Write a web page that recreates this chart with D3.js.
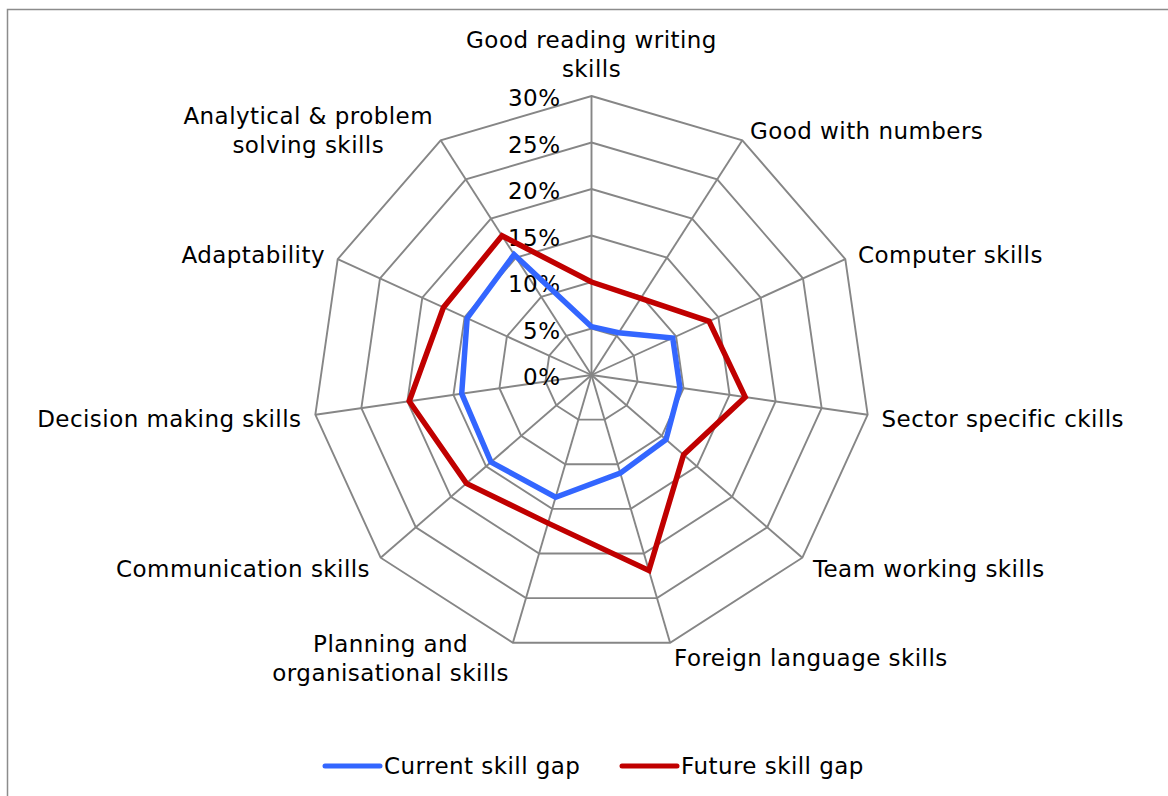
<!DOCTYPE html>
<html>
<head>
<meta charset="utf-8">
<script src="https://cdn.jsdelivr.net/npm/d3@7"></script>
<style>
  body { margin: 0; background: #fff; }
  svg text { font-family: "DejaVu Sans", Verdana, sans-serif; font-size: 23px; letter-spacing: 0.45px; fill: #000; }
</style>
</head>
<body>
<div id="chart"></div>
<script>
// categories, clockwise from the top
const categories = [
  "Good reading writing\nskills",
  "Good with numbers",
  "Computer skills",
  "Sector specific ckills",
  "Team working skills",
  "Foreign language skills",
  "Planning and\norganisational skills",
  "Communication skills",
  "Decision making skills",
  "Adaptability",
  "Analytical & problem\nsolving skills"
];
// values in %
const currentGap = [5.2, 5.4, 9.6, 9.6, 10.6, 11.0, 13.7, 14.3, 14.1, 14.7, 15.4];
const futureGap  = [10.0, 9.8, 13.9, 16.7, 13.1, 21.9, 16.6, 17.8, 19.8, 17.5, 17.8];
const tickValues = [0, 0.05, 0.10, 0.15, 0.20, 0.25, 0.30];
const seriesNames = ["Current skill gap", "Future skill gap"];
const seriesColors = ["#3366ff", "#c00000"];

const width = 1168, height = 796;
const cx = 591.5, cy = 375, radius = 279;
const n = categories.length;

const svg = d3.select('#chart').append('svg')
  .attr('width', width)
  .attr('height', height);

// chart area border (only left and top visible)
svg.append('path')
  .attr('d', `M7.5,${height} V9.5 H${width}`)
  .attr('fill', 'none')
  .attr('stroke', '#8c8c8c')
  .attr('stroke-width', 1.5);

const r = d3.scaleLinear().domain([0, 0.30]).range([0, radius]);
const angle = d3.scaleLinear().domain([0, n]).range([0, 2 * Math.PI]);

const g = svg.append('g').attr('transform', `translate(${cx},${cy})`);

// rings
const ring = d3.lineRadial()
  .angle((d, i) => angle(i))
  .radius(d => r(d))
  .curve(d3.curveLinearClosed);

g.selectAll('.ring')
  .data(tickValues.filter(t => t > 0))
  .enter()
  .append('path')
  .attr('class', 'ring')
  .attr('d', t => ring(d3.range(n).map(() => t)))
  .attr('fill', 'none')
  .attr('stroke', '#868686')
  .attr('stroke-width', 1.9);

// spokes
g.selectAll('.spoke')
  .data(d3.range(n))
  .enter()
  .append('line')
  .attr('class', 'spoke')
  .attr('x1', 0).attr('y1', 0)
  .attr('x2', i => r(0.30) * Math.sin(angle(i)))
  .attr('y2', i => -r(0.30) * Math.cos(angle(i)))
  .attr('stroke', '#868686')
  .attr('stroke-width', 1.9);

// tick labels
const fmt = d3.format('.0%');
g.selectAll('.tick')
  .data(tickValues)
  .enter()
  .append('text')
  .attr('class', 'tick')
  .attr('x', -31)
  .attr('y', t => -r(t) + 2)
  .attr('dy', '0.35em')
  .attr('text-anchor', 'end')
  .text(t => fmt(t));

// series
const seriesLine = d3.lineRadial()
  .angle((d, i) => angle(i))
  .radius(d => r(d / 100))
  .curve(d3.curveLinearClosed);

[currentGap, futureGap].forEach((vals, s) => {
  g.append('path')
    .attr('d', seriesLine(vals))
    .attr('fill', 'none')
    .attr('stroke', seriesColors[s])
    .attr('stroke-width', 5.5)
    .attr('stroke-linejoin', 'miter');
});

// category labels
const lineGap = 29;
categories.forEach((label, i) => {
  const a = angle(i);
  const ux = Math.sin(a), uy = -Math.cos(a);
  const px = cx + (radius + 14) * ux;
  const py = cy + (radius + 14) * uy;
  const lines = label.split('\n');
  const texts = lines.map(l => svg.append('text').attr('text-anchor', 'middle').attr('dy', '0.35em').text(l));
  const w = d3.max(texts, t => t.node().getComputedTextLength());
  let bx = px;
  if (ux > 0.1) bx = px + w / 2;
  else if (ux < -0.1) bx = px - w / 2;
  let by = py + 2;
  if (uy < -0.95) by = py - 13 - (lines.length - 1) / 2 * lineGap;
  texts.forEach((t, k) => {
    t.attr('x', bx).attr('y', by + (k - (lines.length - 1) / 2) * lineGap);
  });
});

// legend
const legendX = [325, 622];
const legend = svg.selectAll('.legend')
  .data(seriesNames)
  .enter()
  .append('g')
  .attr('class', 'legend')
  .attr('transform', (d, i) => `translate(${legendX[i]},766)`);

legend.append('line')
  .attr('x1', 0).attr('x2', 55)
  .attr('y1', 0).attr('y2', 0)
  .attr('stroke', (d, i) => seriesColors[i])
  .attr('stroke-width', 5)
  .attr('stroke-linecap', 'round');

legend.append('text')
  .attr('x', 59)
  .attr('dy', '0.35em')
  .text(d => d);
</script>
</body>
</html>
